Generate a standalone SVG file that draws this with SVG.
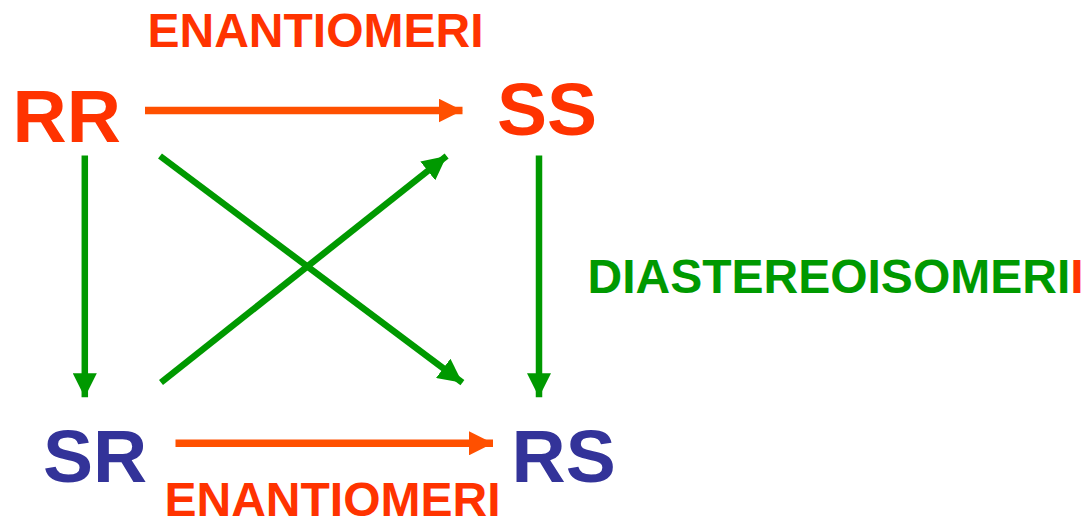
<svg xmlns="http://www.w3.org/2000/svg" width="1089" height="520" viewBox="0 0 1089 520">
<style>
text{font-family:"Liberation Sans",Arial,sans-serif;font-weight:bold}
.big{font-size:75px}
.lbl{font-size:48px}
.red{fill:#FF3300}
.blue{fill:#333399}
.green{fill:#009900}
.o{stroke:#FF5000;stroke-width:7.5;fill:none}
.g{stroke:#009900;stroke-width:6.5;fill:none}
</style>
<defs>
<marker id="ao" markerUnits="userSpaceOnUse" markerWidth="24" markerHeight="24" refX="24" refY="12" orient="auto"><path d="M0,0 L24,12 L0,24 z" fill="#FF5000"/></marker>
<marker id="ag" markerUnits="userSpaceOnUse" markerWidth="24" markerHeight="24" refX="24" refY="12" orient="auto"><path d="M0,0 L24,12 L0,24 z" fill="#009900"/></marker>
</defs>
<rect width="1089" height="520" fill="#FFFFFF"/>
<g id="connectors">
<line class="o" x1="145" y1="110.5" x2="462.5" y2="110.5" marker-end="url(#ao)"/>
<line class="o" x1="175.5" y1="443.3" x2="493" y2="443.3" marker-end="url(#ao)"/>
<line class="g" x1="84.8" y1="155.5" x2="84.8" y2="397.3" marker-end="url(#ag)"/>
<line class="g" x1="539" y1="155.5" x2="539" y2="397.3" marker-end="url(#ag)"/>
<line class="g" x1="160" y1="156" x2="462.4" y2="382.7" marker-end="url(#ag)"/>
<line class="g" x1="161" y1="382.5" x2="446.6" y2="156" marker-end="url(#ag)"/>
</g>
<g id="RR"><text class="big red" x="12.5" y="142">RR</text></g>
<g id="SS"><text class="big red" x="497" y="135">SS</text></g>
<g id="SR"><text class="big blue" x="43" y="482">SR</text></g>
<g id="RS"><text class="big blue" x="511.5" y="482">RS</text></g>
<g id="label-top"><text class="lbl red" x="147.5" y="47">ENANTIOMERI</text></g>
<g id="label-bottom"><text class="lbl red" x="164.5" y="515.5">ENANTIOMERI</text></g>
<g id="label-right"><text class="lbl green" x="587.5" y="293.3">DIASTEREOISOMERI<tspan class="red">I</tspan></text></g>
</svg>
